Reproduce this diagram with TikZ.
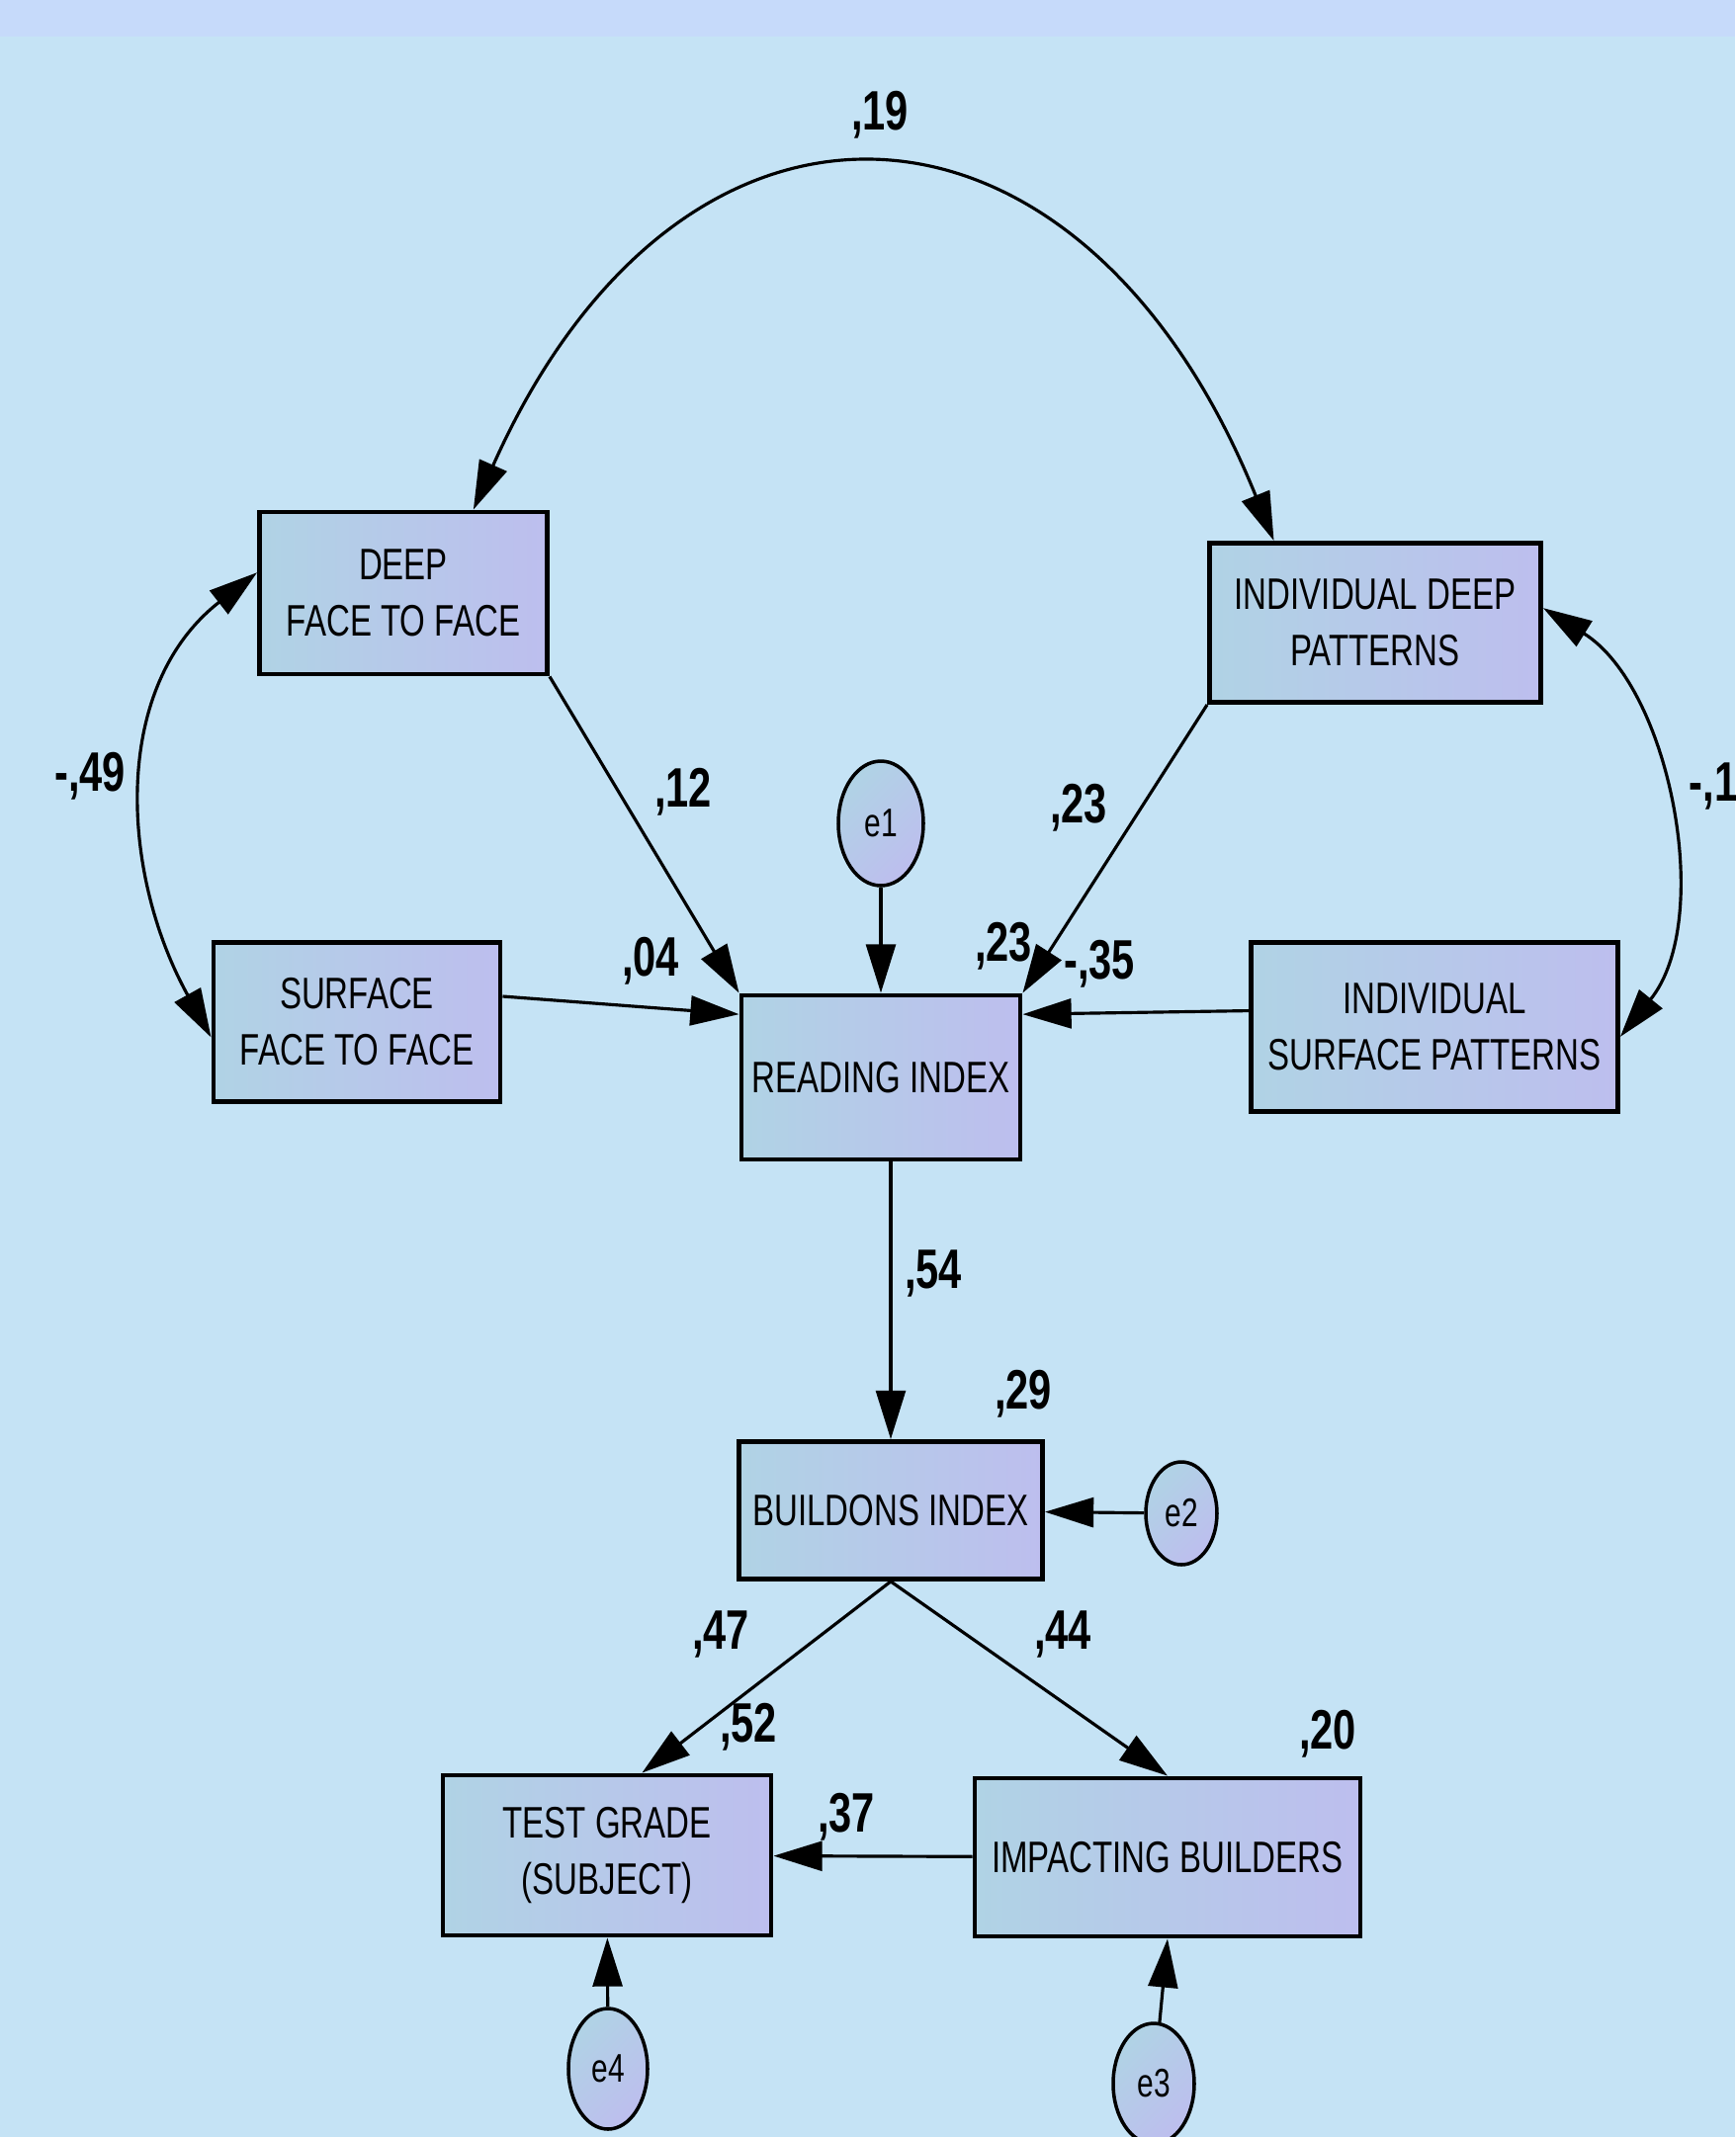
\documentclass[tikz,border=0pt]{standalone}
\usepackage{fontspec}
\setmainfont{Liberation Sans}[FakeStretch=0.74]
\usetikzlibrary{arrows.meta,shapes.geometric}

\definecolor{bgblue}{HTML}{C5E3F5}
\definecolor{bandblue}{HTML}{C6DAFA}
\definecolor{boxleft}{HTML}{B0D3E5}
\definecolor{boxright}{HTML}{BDBEEE}

\begin{document}
\begin{tikzpicture}[
    x=0.1mm, y=0.1mm,
    var/.style={rectangle, draw, line width=1.4pt, left color=boxleft, right color=boxright, align=center, inner sep=0pt, font=\fontsize{12.7}{16.2}\selectfont},
    err/.style={ellipse, draw, line width=1pt, left color=boxleft, right color=boxright, shading angle=45, inner sep=0pt, font=\fontsize{11.5}{13}\selectfont},
    coef/.style={font=\bfseries\fontsize{16}{18}\selectfont, anchor=base, inner sep=0pt},
    arrow/.style={-{Triangle[length=14pt,width=8.5pt]}, line width=0.9pt},
    covarrow/.style={{Triangle[length=14pt,width=8.5pt]}-{Triangle[length=14pt,width=8.5pt]}, line width=0.9pt}
  ]

    % Background
    \useasboundingbox (0,0) rectangle (1755,-2162);
    \fill[bgblue] (0,0) rectangle (1755,-2162);
    \fill[bandblue] (0,0) rectangle (1755,-37);

    % Top layer - exogenous variables
    \node[var, minimum width=2.91cm, minimum height=1.64cm] (deepftf) at (408,-600) {DEEP\\FACE TO FACE};
    \node[var, minimum width=3.35cm, minimum height=1.61cm] (inddeep) at (1391,-630) {INDIVIDUAL DEEP\\PATTERNS};
    \node[var, minimum width=2.90cm, minimum height=1.61cm] (surfftf) at (361,-1034) {SURFACE\\FACE TO FACE};
    \node[var, minimum width=3.71cm, minimum height=1.71cm] (indsurf) at (1451,-1039) {INDIVIDUAL\\SURFACE PATTERNS};

    % Middle layer - indices
    \node[var, minimum width=2.82cm, minimum height=1.66cm] (reading) at (891,-1090) {READING INDEX};
    \node[var, minimum width=3.07cm, minimum height=1.39cm] (buildons) at (901,-1528) {BUILDONS INDEX};

    % Bottom layer - outcomes
    \node[var, minimum width=3.32cm, minimum height=1.62cm] (testgrade) at (614,-1877) {TEST GRADE\\(SUBJECT)};
    \node[var, minimum width=3.90cm, minimum height=1.60cm] (impacting) at (1181,-1879) {IMPACTING BUILDERS};

    % Error terms
    \node[err, minimum width=0.86cm, minimum height=1.26cm] (e1) at (891,-833) {e1};
    \node[err, minimum width=0.72cm, minimum height=1.04cm] (e2) at (1195,-1531) {e2};
    \node[err, minimum width=0.82cm, minimum height=1.22cm] (e3) at (1167,-2108) {e3};
    \node[err, minimum width=0.80cm, minimum height=1.22cm] (e4) at (615,-2093) {e4};

    % Covariances
    \draw[covarrow] (deepftf.50) to[out=66, in=112, looseness=1.64] (inddeep.141);
    \draw[covarrow] (deepftf.172) to[out=218, in=119, looseness=1.02] (surfftf.186);
    \draw[covarrow] (inddeep.5) to[out=-32, in=51, looseness=0.88] (indsurf.-3);

    % Paths
    \draw[arrow] (deepftf.south east) -- (reading.north west);
    \draw[arrow] (surfftf.10) -- (reading.156);
    \draw[arrow] (e1) -- (reading);
    \draw[arrow] (inddeep.south west) -- (reading.north east);
    \draw[arrow] (indsurf.175) -- (reading.24);
    \draw[arrow] (reading.south -| buildons.north) -- (buildons.north);
    \draw[arrow] (e2) -- (buildons);
    \draw[arrow] (buildons.south) -- (testgrade.67);
    \draw[arrow] (buildons.south) -- (impacting.north);
    \draw[arrow] (impacting) -- (testgrade);
    \draw[arrow] (e4) -- (testgrade);
    \draw[arrow] (e3) -- (impacting.south);

    % Estimates
    \node[coef] (c19) at (890,-131) {,19};
    \node[coef] (c49) at (91,-800) {-,49};
    \node[coef, anchor=base west] (c1) at (1708,-810) {-,1};
    \node[coef] (c12) at (691,-816) {,12};
    \node[coef] (c23) at (1091,-832) {,23};
    \node[coef] (c04) at (658,-987) {,04};
    \node[coef] (r23) at (1015,-972) {,23};
    \node[coef] (c35) at (1112,-990) {-,35};
    \node[coef] (c54) at (944,-1303) {,54};
    \node[coef] (r29) at (1035,-1425) {,29};
    \node[coef] (c47) at (729,-1668) {,47};
    \node[coef] (c44) at (1075,-1668) {,44};
    \node[coef] (r52) at (757,-1762) {,52};
    \node[coef] (r20) at (1343,-1769) {,20};
    \node[coef] (c37) at (856,-1853) {,37};

\end{tikzpicture}
\end{document}
